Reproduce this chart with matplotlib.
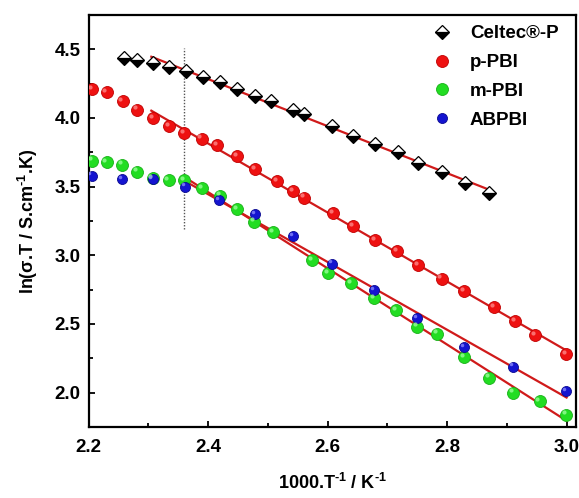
import matplotlib
matplotlib.use("Agg")
import matplotlib.pyplot as plt
import matplotlib.transforms as mtransforms
import numpy as np
from matplotlib.ticker import MultipleLocator

# data
celtec_x = [2.260, 2.281, 2.307, 2.335, 2.363, 2.391, 2.420, 2.449, 2.479, 2.505,
            2.542, 2.561, 2.608, 2.643, 2.680, 2.718, 2.752, 2.791, 2.830, 2.871]
celtec_y = [4.44, 4.42, 4.40, 4.37, 4.34, 4.30, 4.26, 4.21, 4.16, 4.12,
            4.06, 4.03, 3.94, 3.87, 3.81, 3.75, 3.67, 3.61, 3.53, 3.45]

ppbi_x = [2.206, 2.230, 2.257, 2.281, 2.308, 2.335, 2.360, 2.389, 2.415, 2.449,
          2.479, 2.516, 2.542, 2.561, 2.609, 2.643, 2.680, 2.716, 2.752, 2.791,
          2.829, 2.879, 2.914, 2.947, 2.999]
ppbi_y = [4.21, 4.19, 4.12, 4.06, 4.00, 3.94, 3.89, 3.85, 3.80, 3.72,
          3.63, 3.54, 3.47, 3.42, 3.305, 3.21, 3.11, 3.03, 2.93, 2.83,
          2.74, 2.62, 2.52, 2.42, 2.28]

mpbi_x = [2.206, 2.230, 2.256, 2.281, 2.307, 2.334, 2.360, 2.390, 2.420, 2.449,
          2.477, 2.509, 2.574, 2.601, 2.640, 2.678, 2.715, 2.750, 2.783, 2.829,
          2.871, 2.911, 2.955, 2.999]
mpbi_y = [3.69, 3.68, 3.66, 3.61, 3.56, 3.55, 3.55, 3.49, 3.435, 3.335,
          3.245, 3.17, 2.965, 2.87, 2.80, 2.69, 2.60, 2.48, 2.43, 2.26,
          2.11, 2.00, 1.94, 1.84]

abpbi_x = [2.205, 2.256, 2.307, 2.361, 2.418, 2.479, 2.542, 2.608, 2.678, 2.750,
           2.829, 2.911, 2.999]
abpbi_y = [3.58, 3.555, 3.555, 3.50, 3.40, 3.30, 3.14, 2.94, 2.745, 2.54,
           2.33, 2.19, 2.01]

# start of the linear fits and the dotted marker line
fit_start = {"celtec": 2.30, "ppbi": 2.30, "mpbi": 2.355, "abpbi": 2.355}
fit_end = {"celtec": 2.875, "ppbi": 3.0, "mpbi": 3.0, "abpbi": 3.0}
vline_x, vline_y0, vline_y1 = 2.36, 3.19, 4.51

plt.rcParams["font.family"] = ["Liberation Sans", "DejaVu Sans"]
plt.rcParams["font.weight"] = "bold"
plt.rcParams["mathtext.fontset"] = "custom"
plt.rcParams["mathtext.rm"] = "Liberation Sans:bold"
plt.rcParams["mathtext.default"] = "rm"

fig = plt.figure(figsize=(5.79, 4.98), dpi=100)
ax = fig.add_axes([0.153, 0.1426, 0.842, 0.8274])

line_col = "#d01a1a"


def fit_line(xs, ys, key):
    xs, ys = np.array(xs), np.array(ys)
    m = xs >= fit_start[key]
    k, b = np.polyfit(xs[m], ys[m], 1)
    xx = np.array([fit_start[key] + 0.005, fit_end[key]])
    ax.plot(xx, k * xx + b, color=line_col, lw=1.6, zorder=3)


fit_line(celtec_x, celtec_y, "celtec")
fit_line(ppbi_x, ppbi_y, "ppbi")
fit_line(mpbi_x, mpbi_y, "mpbi")
fit_line(abpbi_x, abpbi_y, "abpbi")

ax.plot([vline_x, vline_x], [vline_y0, vline_y1], color="#555555", lw=1.0,
        ls=(0, (1, 1.2)), zorder=1)

# shiny spheres: base colour + offset highlight
shift = mtransforms.ScaledTranslation(-1.6 / 72, 1.6 / 72, fig.dpi_scale_trans)


def sphere(xs, ys, base, edge, hi, size, label):
    h, = ax.plot(xs, ys, "o", ms=size, mfc=base, mec=edge, mew=0.6,
                 label=label, zorder=4)
    ax.plot(xs, ys, "o", ms=size * 0.35, mfc=hi, mec="none", alpha=0.75,
            transform=ax.transData + shift, zorder=5)
    return h


hd, = ax.plot(celtec_x, celtec_y, "D", ms=7.6, fillstyle="bottom",
              mfc="black", mfcalt="white", mec="black", mew=0.9,
              label="Celtec®-P", zorder=4)
hp = sphere(ppbi_x, ppbi_y, "#ee1111", "#c00000", "#ff9090", 8.6, "p-PBI")
hm = sphere(mpbi_x, mpbi_y, "#22dd22", "#18b018", "#a0ffa0", 8.6, "m-PBI")
ha = sphere(abpbi_x, abpbi_y, "#1414d0", "#0a0a90", "#9090ff", 7.2, "ABPBI")

ax.set_xlim(2.2, 3.016)
ax.set_ylim(1.75, 4.75)
ax.xaxis.set_major_locator(MultipleLocator(0.2))
ax.xaxis.set_minor_locator(MultipleLocator(0.1))
ax.yaxis.set_major_locator(MultipleLocator(0.5))
ax.yaxis.set_minor_locator(MultipleLocator(0.25))
ax.xaxis.set_major_formatter(plt.FuncFormatter(lambda v, p: f"{v:.1f}"))
ax.yaxis.set_major_formatter(plt.FuncFormatter(lambda v, p: f"{v:.1f}"))
ax.tick_params(which="both", direction="in", top=False, right=False,
               width=1.3, labelsize=13.5)
ax.tick_params(which="major", length=4.5)
ax.tick_params(axis="x", which="major", pad=9)
ax.tick_params(axis="y", which="major", pad=6)
ax.tick_params(which="minor", length=3)
for s in ax.spines.values():
    s.set_linewidth(1.6)

ax.set_xlabel("1000.T$^{\u2010 1}$ / K$^{\u2010 1}$", fontsize=13,
              fontweight="bold", labelpad=12)
ax.set_ylabel("ln(σ.T / S.cm$^{\u2010 1}$.K)", fontsize=13, fontweight="bold",
              labelpad=10)

ax.legend(handles=[hd, hp, hm, ha], loc="upper right", frameon=False,
          fontsize=13.5, handlelength=1.0, handletextpad=1.0, labelspacing=0.62,
          borderaxespad=0.2, borderpad=0.35, bbox_to_anchor=(0.985, 1.0))

fig.savefig("out.png", dpi=100)
